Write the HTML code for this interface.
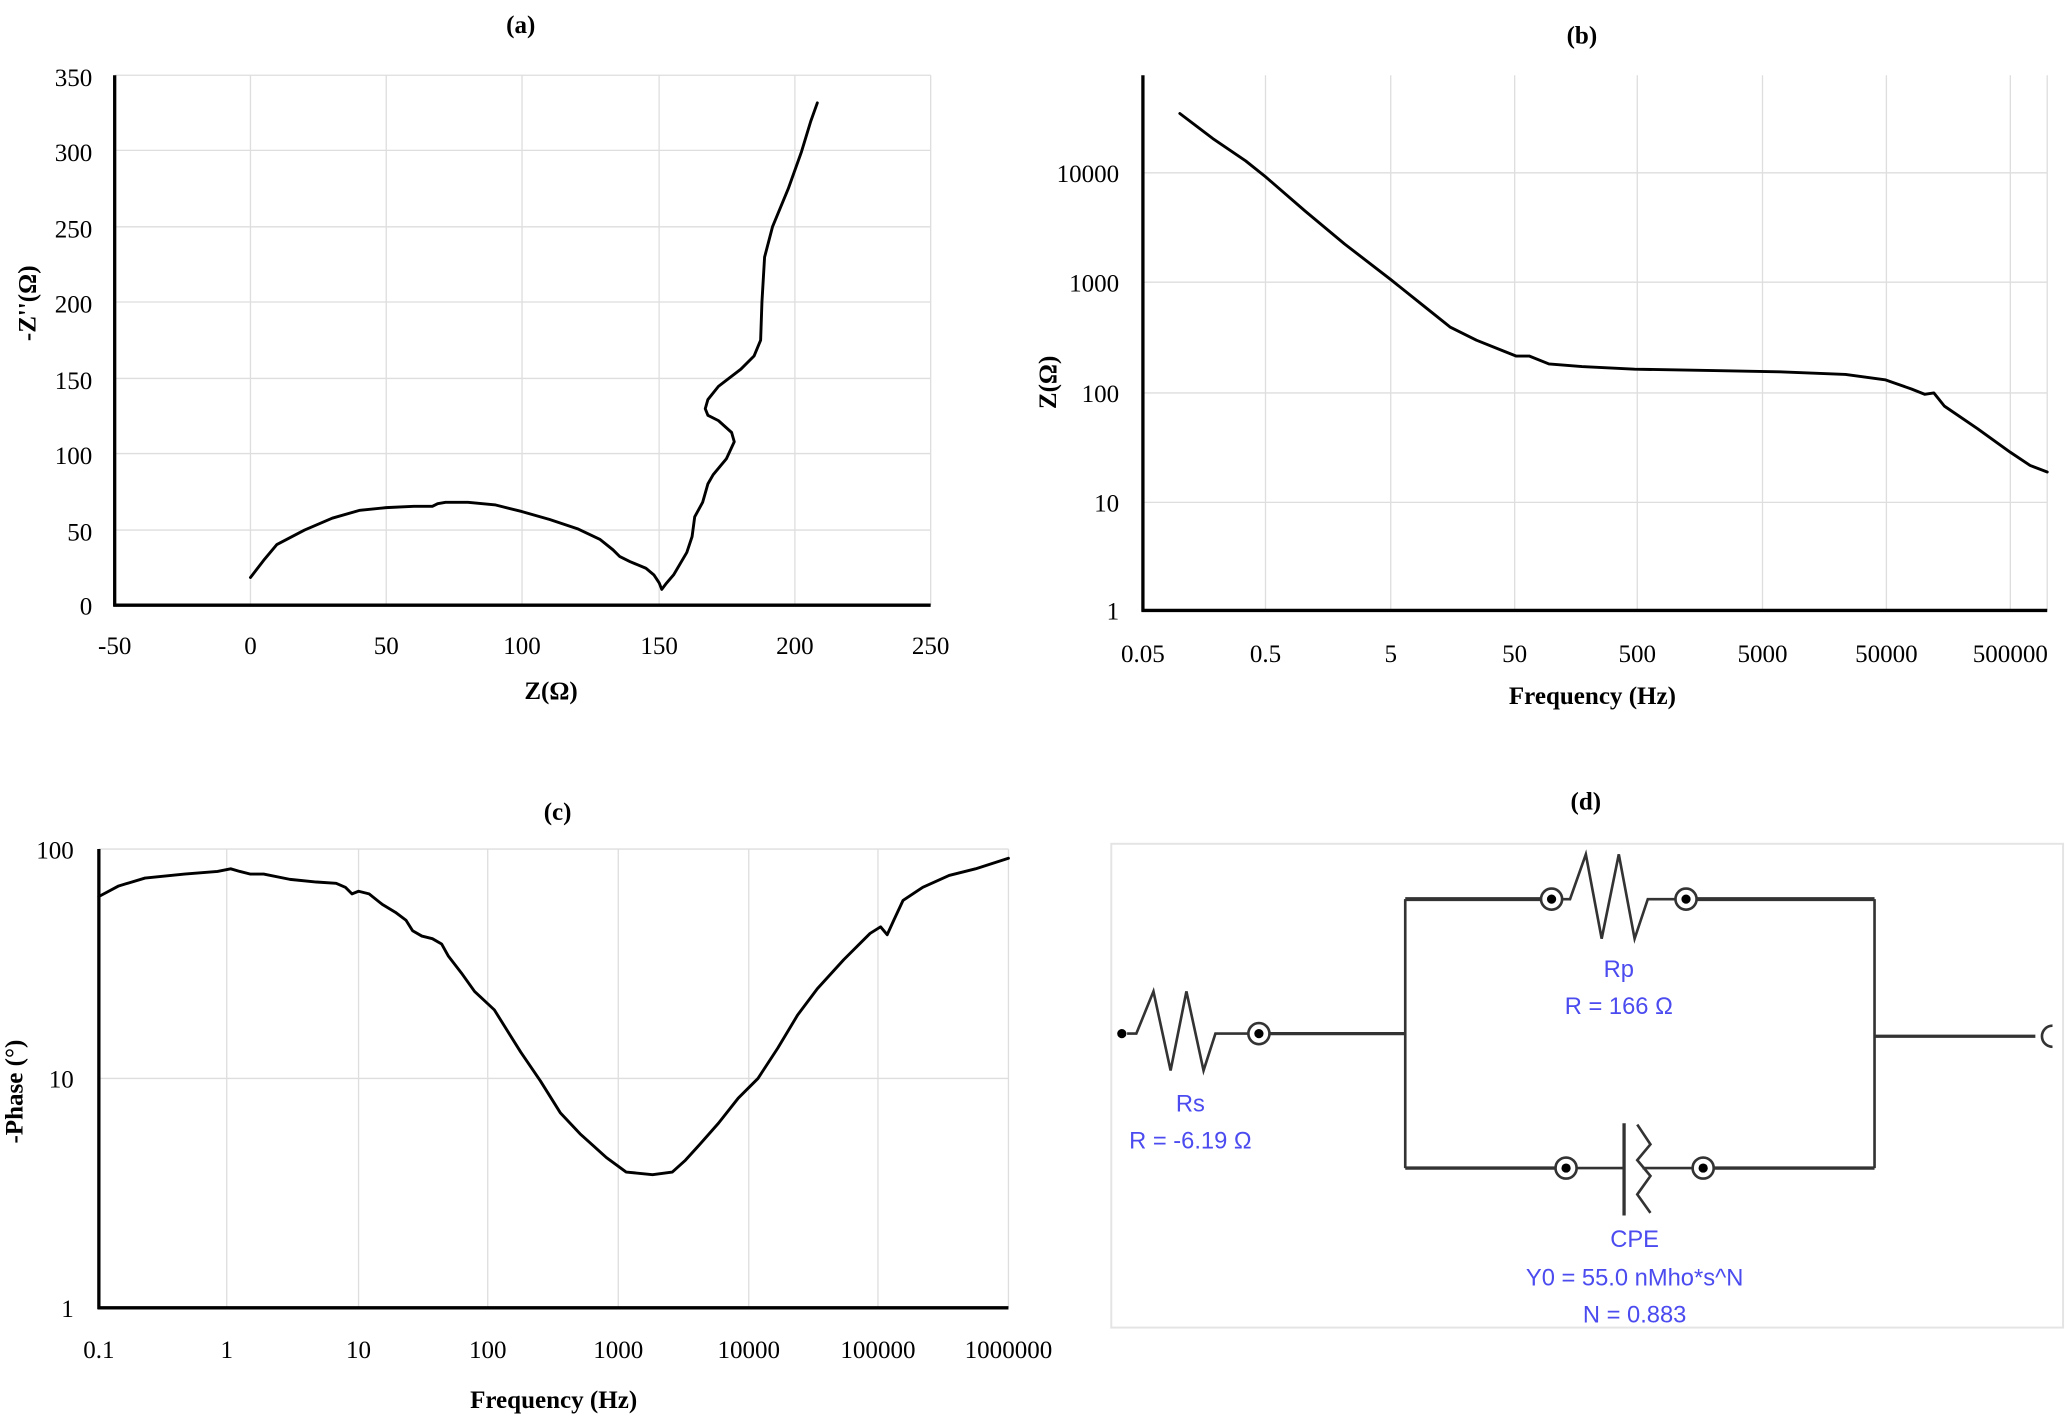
<!DOCTYPE html>
<html><head><meta charset="utf-8"><style>
html,body{margin:0;padding:0;background:#fff;}
svg{display:block;}
text{font-family:"Liberation Serif",serif;fill:#000;}
.t{font-size:19px;}
.b{font-weight:bold;font-size:19px;}
.g{stroke:#dedede;stroke-width:1;}
.ax{stroke:#000;stroke-width:2.5;}
.c{fill:none;stroke:#000;stroke-width:2.2;stroke-linejoin:round;stroke-linecap:round;}
.bl text{font-family:"Liberation Sans",sans-serif;fill:#4b4bf0;font-size:18px;}
.w{stroke:#333;stroke-width:2;fill:none;}
</style></head><body>
<svg width="2067" height="1416" viewBox="0 0 1568 1074" xmlns="http://www.w3.org/2000/svg">
<rect width="1568" height="1074" fill="#fff"/>
<!-- (a) -->
<text class="b" x="395" y="25" text-anchor="middle" font-size="21">(a)</text>
<g class="g">
<line x1="190" y1="57" x2="190" y2="459"/><line x1="293" y1="57" x2="293" y2="459"/><line x1="396" y1="57" x2="396" y2="459"/><line x1="500" y1="57" x2="500" y2="459"/><line x1="603" y1="57" x2="603" y2="459"/><line x1="706" y1="57" x2="706" y2="459"/>
<line x1="87" y1="57" x2="706" y2="57"/><line x1="87" y1="114" x2="706" y2="114"/><line x1="87" y1="172" x2="706" y2="172"/><line x1="87" y1="229" x2="706" y2="229"/><line x1="87" y1="287" x2="706" y2="287"/><line x1="87" y1="344" x2="706" y2="344"/><line x1="87" y1="402" x2="706" y2="402"/>
</g>
<line class="ax" x1="87" y1="57" x2="87" y2="460"/><line class="ax" x1="86" y1="459" x2="706" y2="459"/>
<g class="t" text-anchor="end">
<text x="70" y="65">350</text><text x="70" y="122">300</text><text x="70" y="180">250</text><text x="70" y="237">200</text><text x="70" y="295">150</text><text x="70" y="352">100</text><text x="70" y="410">50</text><text x="70" y="466">0</text>
</g>
<g class="t" text-anchor="middle">
<text x="87" y="496">-50</text><text x="190" y="496">0</text><text x="293" y="496">50</text><text x="396" y="496">100</text><text x="500" y="496">150</text><text x="603" y="496">200</text><text x="706" y="496">250</text>
</g>
<text class="b" x="418" y="530" text-anchor="middle">Z(Ω)</text>
<text class="b" transform="translate(27,230) rotate(-90)" text-anchor="middle">-Z''(Ω)</text>
<polyline class="c" points="190,438 200,425 210,413 231,402 252,393 273,387 293,385 314,384 328,384 332,382 338,381 355,381 376,383 396,388 417,394 438,401 455,409 465,417 470,422 478,426 490,431 496,436 500,442 502,447 505,443 511,436 521,419 525,407 527,392 533,381 537,367 541,360 551,348 557,335 555,328 545,319 537,315 535,310 537,303 545,293 562,280 572,270 577,258 578,229 580,195 586,172 598,143 608,115 615,92 620,78"/>
<!-- (b) -->
<text class="b" x="1200" y="33" text-anchor="middle" font-size="21">(b)</text>
<g class="g">
<line x1="960" y1="57" x2="960" y2="463"/><line x1="1055" y1="57" x2="1055" y2="463"/><line x1="1149" y1="57" x2="1149" y2="463"/><line x1="1242" y1="57" x2="1242" y2="463"/><line x1="1337" y1="57" x2="1337" y2="463"/><line x1="1431" y1="57" x2="1431" y2="463"/><line x1="1525" y1="57" x2="1525" y2="463"/><line x1="1553" y1="57" x2="1553" y2="463"/>
<line x1="867" y1="131" x2="1553" y2="131"/><line x1="867" y1="214" x2="1553" y2="214"/><line x1="867" y1="298" x2="1553" y2="298"/><line x1="867" y1="381" x2="1553" y2="381"/>
</g>
<line class="ax" x1="867" y1="57" x2="867" y2="464"/><line class="ax" x1="866" y1="463" x2="1553" y2="463"/>
<g class="t" text-anchor="end">
<text x="849" y="138">10000</text><text x="849" y="221">1000</text><text x="849" y="305">100</text><text x="849" y="388">10</text><text x="849" y="470">1</text>
</g>
<g class="t" text-anchor="middle">
<text x="867" y="502">0.05</text><text x="960" y="502">0.5</text><text x="1055" y="502">5</text><text x="1149" y="502">50</text><text x="1242" y="502">500</text><text x="1337" y="502">5000</text><text x="1431" y="502">50000</text><text x="1525" y="502">500000</text>
</g>
<text class="b" x="1208" y="534" text-anchor="middle">Frequency (Hz)</text>
<text class="b" transform="translate(801,290) rotate(-90)" text-anchor="middle">Z(Ω)</text>
<polyline class="c" points="895,86 920,105 945,122 960,134 990,160 1020,185 1055,212 1080,232 1100,248 1120,258 1140,266 1150,270 1160,270 1175,276 1200,278 1240,280 1300,281 1350,282 1400,284 1430,288 1450,295 1460,299 1467,298 1475,308 1500,325 1525,343 1540,353 1553,358"/>
<!-- (c) -->
<text class="b" x="423" y="622" text-anchor="middle" font-size="21">(c)</text>
<g class="g">
<line x1="172" y1="644" x2="172" y2="992"/><line x1="272" y1="644" x2="272" y2="992"/><line x1="370" y1="644" x2="370" y2="992"/><line x1="469" y1="644" x2="469" y2="992"/><line x1="568" y1="644" x2="568" y2="992"/><line x1="666" y1="644" x2="666" y2="992"/><line x1="765" y1="644" x2="765" y2="992"/>
<line x1="75" y1="644" x2="765" y2="644"/><line x1="75" y1="818" x2="765" y2="818"/>
</g>
<line class="ax" x1="75" y1="644" x2="75" y2="993"/><line class="ax" x1="74" y1="992" x2="765" y2="992"/>
<g class="t" text-anchor="end">
<text x="56" y="651">100</text><text x="56" y="825">10</text><text x="56" y="999">1</text>
</g>
<g class="t" text-anchor="middle">
<text x="75" y="1030">0.1</text><text x="172" y="1030">1</text><text x="272" y="1030">10</text><text x="370" y="1030">100</text><text x="469" y="1030">1000</text><text x="568" y="1030">10000</text><text x="666" y="1030">100000</text><text x="765" y="1030">1000000</text>
</g>
<text class="b" x="420" y="1068" text-anchor="middle">Frequency (Hz)</text>
<text class="b" transform="translate(17,828) rotate(-90)" text-anchor="middle">-Phase (°)</text>
<polyline class="c" points="75,680 90,672 110,666 140,663 165,661 175,659 182,661 190,663 200,663 220,667 240,669 255,670 262,673 267,678 272,676 280,678 290,686 300,692 308,698 313,706 320,710 328,712 335,716 340,725 350,738 360,752 375,766 385,782 395,798 410,820 425,844 440,860 460,878 475,889 495,891 510,889 520,880 530,869 545,852 560,833 575,818 590,795 605,770 620,750 640,728 660,708 668,703 673,709 678,698 685,683 700,673 720,664 740,659 765,651"/>
<!-- (d) -->
<text class="b" x="1203" y="614" text-anchor="middle" font-size="21">(d)</text>
<rect x="843" y="640" width="722" height="367" fill="none" stroke="#e4e4e4" stroke-width="1.5"/>
<circle cx="851" cy="784" r="3.5" fill="#000"/>
<polyline class="w" points="855,784 862,784 875,752 888,812 900,752 913,812 922,784 947,784"/>
<circle cx="955" cy="784" r="8" fill="#fff" stroke="#333" stroke-width="2"/><circle cx="955" cy="784" r="3.5" fill="#000"/>
<line x1="963" y1="784" x2="1066" y2="784" stroke="#333" stroke-width="2.5"/>
<line x1="1066" y1="682" x2="1066" y2="886" stroke="#333" stroke-width="2"/>
<line x1="1422" y1="682" x2="1422" y2="886" stroke="#333" stroke-width="2"/>
<line x1="1066" y1="682" x2="1169" y2="682" stroke="#333" stroke-width="3"/>
<circle cx="1177" cy="682" r="8" fill="#fff" stroke="#333" stroke-width="2"/><circle cx="1177" cy="682" r="3.5" fill="#000"/>
<polyline class="w" points="1185,682 1191,682 1203,648 1215,712 1228,648 1240,712 1250,682 1271,682"/>
<circle cx="1279" cy="682" r="8" fill="#fff" stroke="#333" stroke-width="2"/><circle cx="1279" cy="682" r="3.5" fill="#000"/>
<line x1="1287" y1="682" x2="1422" y2="682" stroke="#333" stroke-width="3"/>
<line x1="1422" y1="786" x2="1544" y2="786" stroke="#333" stroke-width="2.5"/>
<path d="M1557,778 A8,8 0 1 0 1557,794" fill="none" stroke="#333" stroke-width="2"/>
<line x1="1066" y1="886" x2="1180" y2="886" stroke="#333" stroke-width="2.5"/>
<circle cx="1188" cy="886" r="8" fill="#fff" stroke="#333" stroke-width="2"/><circle cx="1188" cy="886" r="3.5" fill="#000"/>
<line x1="1196" y1="886" x2="1232" y2="886" stroke="#333" stroke-width="2"/>
<line x1="1232" y1="852" x2="1232" y2="922" stroke="#333" stroke-width="2.5"/>
<polyline class="w" points="1242,853 1252,868 1242,880 1252,892 1242,906 1252,920"/>
<line x1="1246" y1="886" x2="1284" y2="886" stroke="#333" stroke-width="2"/>
<circle cx="1292" cy="886" r="8" fill="#fff" stroke="#333" stroke-width="2"/><circle cx="1292" cy="886" r="3.5" fill="#000"/>
<line x1="1300" y1="886" x2="1422" y2="886" stroke="#333" stroke-width="2.5"/>
<g class="bl" text-anchor="middle">
<text x="1228" y="741">Rp</text><text x="1228" y="769">R = 166 Ω</text>
<text x="903" y="843">Rs</text><text x="903" y="871">R = -6.19 Ω</text>
<text x="1240" y="946">CPE</text><text x="1240" y="975">Y0 = 55.0 nMho*s^N</text><text x="1240" y="1003">N = 0.883</text>
</g>
</svg>
</body></html>
